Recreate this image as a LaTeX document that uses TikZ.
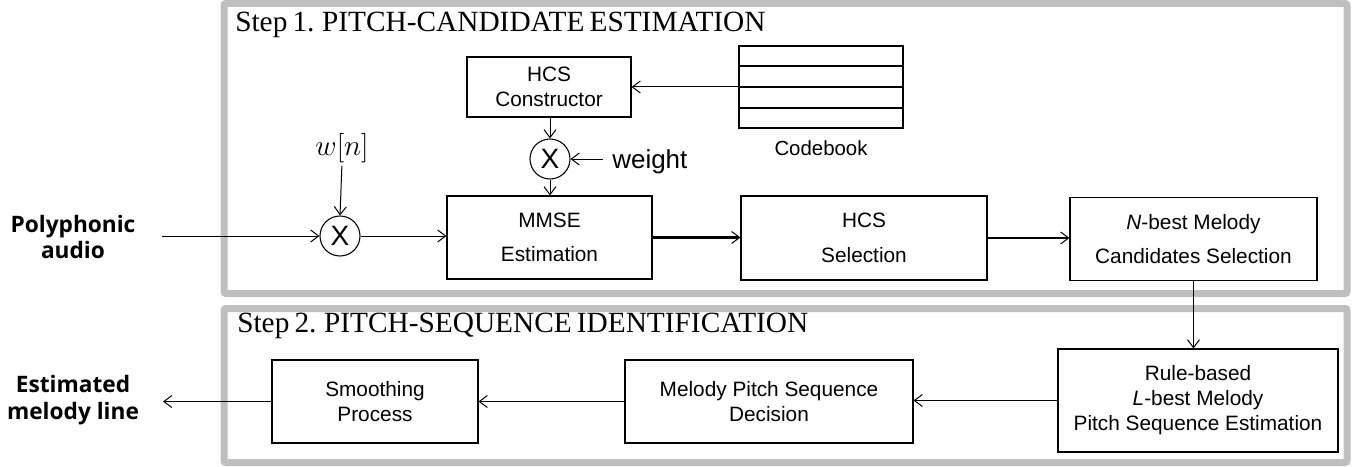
\RequirePackage{fix-cm}
\documentclass[tikz,border=0pt]{standalone}
\usepackage{fontspec}
\usepackage{tikz}
\usetikzlibrary{arrows.meta,calc}
\newfontfamily\boxfont{Liberation Sans}
\newfontfamily\titlefont[WordSpace=0.7]{Liberation Serif}
\newfontfamily\labelfont{Open Sans}
\definecolor{framegray}{HTML}{BFBFBF}
\tikzset{
  stage/.style={draw,line width=0.8pt,align=center,inner sep=0pt,
    font=\boxfont\fontsize{15.6}{18.75}\selectfont},
  stagewide/.style={stage,font=\boxfont\fontsize{15.6}{26}\selectfont},
  mult/.style={draw,circle,line width=0.8pt,minimum size=30pt,inner sep=0pt,
    font=\boxfont\fontsize{21}{21}\selectfont},
  flow/.style={-{Straight Barb[length=6pt,width=9pt]},line width=0.75pt},
  boldflow/.style={line width=1.8pt,-{Straight Barb[length=6pt,width=9pt,line width=0.75pt]}},
  stepframe/.style={draw=framegray,line width=5.25pt,rounded corners=1.5pt},
  steptitle/.style={anchor=base west,inner sep=0pt,
    font=\titlefont\fontsize{22}{24}\selectfont},
  iolabel/.style={align=center,inner sep=0pt,
    font=\labelfont\bfseries\fontsize{17}{20}\selectfont},
  cbrow/.style={line width=1.6pt}
}
\begin{document}
\begin{tikzpicture}[x=0.75pt,y=-0.75pt]
  \useasboundingbox (0,0) rectangle (1357,467);
  \draw[stepframe] (224,3.5) rectangle (1347,293.5);
  \draw[stepframe] (224,308.5) rectangle (1347,462.5);
  \node[steptitle] (title1) at (235,32) {Step 1. PITCH-CANDIDATE ESTIMATION};
  \node[steptitle] (title2) at (237,332) {Step 2. PITCH-SEQUENCE IDENTIFICATION};

  \node[iolabel] (audio) at (73,237) {Polyphonic\\audio};
  \coordinate (audioin) at (162,236);
  \node[mult] (mixw) at (340,236) {X};
  \node[inner sep=0pt,font=\fontsize{22}{26}\selectfont] (win) at (342,148) {$w[n]$};
  \node[stagewide,minimum width=153.75pt,minimum height=62.25pt] (mmse) at (549.5,237.5) {MMSE\\Estimation};
  \node[stage,minimum width=123pt,minimum height=45pt] (hcsc) at (549,87) {HCS\\Constructor};
  \node[mult] (mixg) at (550,159) {X};
  \node[anchor=base west,inner ysep=0pt,inner xsep=6.75pt,
    font=\boxfont\fontsize{19.5}{22}\selectfont] (weight) at (603,168) {weight};
  \node[stagewide,minimum width=184.5pt,minimum height=63pt] (hcss) at (864,238) {HCS\\Selection};
  \node[stagewide,minimum width=185.25pt,minimum height=62pt] (nbest) at (1193.5,239) {\textit{N}-best Melody\\Candidates Selection};
  \node[draw,line width=0.8pt,minimum width=123pt,minimum height=61.5pt] (cb) at (821,87) {};
  \foreach \k in {1,2,3}
    \draw[cbrow] ($(cb.north west)!\k/4!(cb.south west)$) -- ($(cb.north east)!\k/4!(cb.south east)$);
  \node[inner sep=0pt,font=\boxfont\fontsize{15.3}{18}\selectfont] (cblabel) at (821,148) {Codebook};

  \node[iolabel] (melody) at (73,400) {Estimated\\melody line};
  \coordinate (melodyout) at (163,401.5);
  \node[stage,minimum width=154.5pt,minimum height=62.25pt] (smooth) at (375,401.5) {Smoothing\\Process};
  \node[stage,minimum width=216pt,minimum height=62.25pt] (decide) at (769,401.5) {Melody Pitch Sequence\\Decision};
  \node[stage,minimum width=210pt,minimum height=77.25pt] (rule) at (1198,400.5) {Rule-based\\\textit{L}-best Melody\\Pitch Sequence Estimation};

  \draw[flow] (audioin) -- (mixw.west);
  \draw[flow,shorten <=2pt] (win.south) -- (mixw.north);
  \draw[flow] (mixw.east) -- (mixw.east -| mmse.west);
  \draw[flow] (cb.west) -- (hcsc.east);
  \draw[flow] (hcsc.south -| mixg) -- (mixg.north);
  \draw[flow] (mixg.south) -- (mixg.south |- mmse.north);
  \draw[flow] (weight.west |- mixg.east) -- (mixg.east);
  \draw[boldflow] (mmse.east) -- (mmse.east -| hcss.west);
  \draw[boldflow] (hcss.east) -- (hcss.east -| nbest.west);
  \draw[flow] (nbest.south) -- (nbest.south |- rule.north);
  \draw[flow] (rule.west) -- (rule.west -| decide.east);
  \draw[flow] (decide.west) -- (decide.west -| smooth.east);
  \draw[flow] (smooth.west) -- (melodyout);
\end{tikzpicture}
\end{document}
